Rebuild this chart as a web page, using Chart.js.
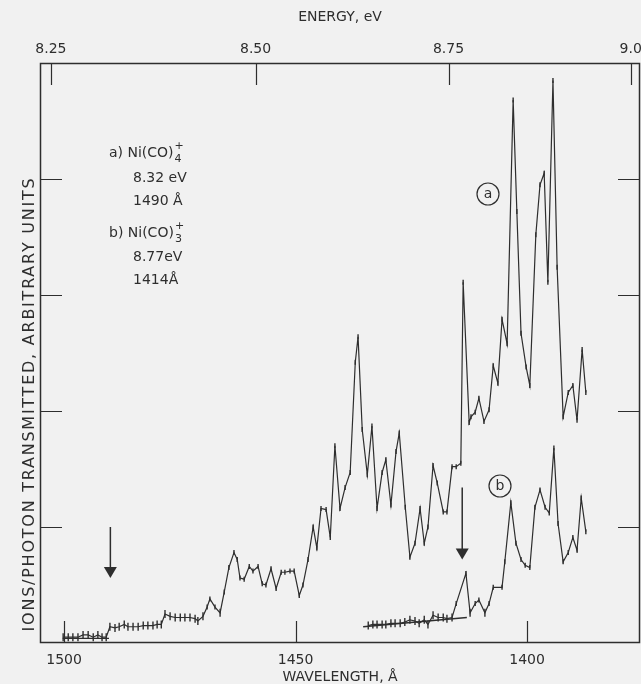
<!DOCTYPE html>
<html><head><meta charset="utf-8">
<script src="https://cdn.jsdelivr.net/npm/chart.js@4/dist/chart.umd.min.js"></script>
<style>html,body{margin:0;padding:0;background:#f1f1f1;}canvas{display:block;}</style>
</head><body><canvas id="c" width="641" height="684"></canvas>
<script>
// ---- data ----
const aWavelength = [1500.2,1499.1,1498.1,1497.0,1495.9,1494.8,1493.7,1492.7,1491.8,1490.9,1490.1,1489.0,1488.1,1487.0,1486.2,1485.1,1484.0,1482.9,1481.9,1480.8,1479.9,1479.0,1478.2,1477.1,1476.0,1474.9,1473.9,1472.8,1471.7,1471.1,1470.0,1469.1,1468.5,1467.4,1466.3,1465.4,1464.4,1463.3,1462.6,1462.0,1461.1,1460.0,1459.2,1458.1,1457.2,1456.4,1455.3,1454.2,1453.1,1452.3,1451.2,1450.3,1449.2,1448.4,1447.3,1446.2,1445.4,1444.5,1443.4,1442.5,1441.5,1440.4,1439.3,1438.2,1437.1,1436.5,1435.6,1434.5,1433.5,1432.4,1431.3,1430.5,1429.4,1428.3,1427.6,1426.3,1425.3,1424.2,1423.1,1422.2,1421.4,1420.3,1419.4,1418.1,1417.3,1416.2,1415.3,1414.3,1413.8,1412.5,1412.1,1411.2,1410.4,1409.3,1408.2,1407.3,1406.3,1405.4,1404.3,1403.0,1402.2,1401.3,1400.2,1399.4,1398.1,1397.2,1396.3,1395.5,1394.4,1393.5,1392.2,1391.1,1390.1,1389.2,1388.1,1387.3];
const aSignal = [0.05,0.05,0.05,0.05,0.07,0.07,0.05,0.07,0.05,0.05,0.14,0.13,0.14,0.16,0.14,0.14,0.14,0.15,0.15,0.15,0.16,0.16,0.25,0.23,0.22,0.22,0.22,0.22,0.21,0.19,0.23,0.31,0.38,0.31,0.26,0.44,0.65,0.78,0.72,0.56,0.55,0.66,0.62,0.66,0.51,0.50,0.64,0.47,0.61,0.61,0.62,0.62,0.41,0.50,0.72,1.00,0.82,1.16,1.15,0.91,1.70,1.16,1.34,1.47,2.42,2.64,1.84,1.45,1.87,1.16,1.47,1.58,1.19,1.65,1.81,1.17,0.74,0.86,1.16,0.86,1.00,1.53,1.38,1.13,1.13,1.52,1.52,1.55,3.11,1.90,1.95,1.99,2.11,1.91,2.01,2.39,2.24,2.79,2.58,4.68,3.72,2.67,2.38,2.22,3.52,3.95,4.05,3.11,4.85,3.24,1.95,2.16,2.22,1.92,2.53,2.16];
const bWavelength = [1434.3,1433.3,1432.4,1431.3,1430.5,1429.4,1428.5,1427.4,1426.4,1425.3,1424.2,1423.3,1422.2,1421.4,1420.3,1419.2,1418.1,1417.3,1416.2,1415.3,1413.2,1412.3,1411.2,1410.4,1409.1,1408.2,1407.3,1405.4,1404.8,1403.5,1402.4,1401.3,1400.4,1399.4,1398.3,1397.2,1396.1,1395.2,1394.2,1393.3,1392.2,1391.1,1390.1,1389.2,1388.3,1387.3];
const bSignal = [0.15,0.16,0.16,0.16,0.16,0.17,0.17,0.17,0.18,0.20,0.19,0.17,0.20,0.16,0.24,0.22,0.22,0.21,0.22,0.34,0.60,0.26,0.34,0.37,0.26,0.34,0.48,0.48,0.70,1.21,0.86,0.72,0.67,0.65,1.17,1.32,1.17,1.12,1.68,1.03,0.70,0.78,0.91,0.80,1.25,0.96];
const baselineAWavelength = [1500.3, 1490.3];
const baselineASignal = [0.04, 0.04];
const baselineBWavelength = [1435.4, 1413.0];
const baselineBSignal = [0.14, 0.22];
const arrowWavelength = [1490, 1414];
const arrowTop = [1.0, 1.34];
const arrowTip = [0.56, 0.72];
const wavelengthTicks = [1500, 1450, 1400];
const energyTicks = [8.25, 8.50, 8.75, 9.0];
const energyLabels = ['8.25', '8.50', '8.75', '9.0'];
const signalTicks = [1, 2, 3, 4];
const HC = 12398.4; // eV·Å

// ---- styling ----
const ink = '#2e2e2e';
const FONT = '"DejaVu Sans", sans-serif';
const xMin = 1375.6, xMax = 1505.2;

function pts(xs, ys){ return xs.map((v,i)=>({x:v, y:ys[i]})); }
function zeroPad(s){ s.paddingLeft=0; s.paddingRight=0; s.paddingTop=0; s.paddingBottom=0; }

const decor = {
  id: 'decor',
  afterDraw(chart){
    const {ctx, chartArea: ca, scales} = chart;
    const x = scales.x, y = scales.y, xt = scales.xTop;
    ctx.save();
    ctx.strokeStyle = ink; ctx.fillStyle = ink;
    // frame
    ctx.lineWidth = 1.5;
    ctx.strokeRect(ca.left + 0.5, ca.top + 0.5, ca.right - ca.left - 1, ca.bottom - ca.top - 1);
    // inward ticks
    ctx.lineWidth = 1.2;
    const TL = 22;
    ctx.beginPath();
    signalTicks.forEach(v => {
      const py = Math.round(y.getPixelForValue(v)) + 0.5;
      ctx.moveTo(ca.left, py); ctx.lineTo(ca.left + TL, py);
      ctx.moveTo(ca.right, py); ctx.lineTo(ca.right - TL, py);
    });
    wavelengthTicks.forEach(v => {
      const px = Math.round(x.getPixelForValue(v)) + 0.5;
      ctx.moveTo(px, ca.bottom); ctx.lineTo(px, ca.bottom - TL);
    });
    energyTicks.forEach(e => {
      const px = Math.round(xt.getPixelForValue(HC / e)) + 0.5;
      ctx.moveTo(px, ca.top); ctx.lineTo(px, ca.top + TL);
    });
    ctx.stroke();
    // threshold arrows
    ctx.lineWidth = 1.5;
    arrowWavelength.forEach((w, i) => {
      const px = x.getPixelForValue(w);
      const pTop = y.getPixelForValue(arrowTop[i]);
      const pTip = y.getPixelForValue(arrowTip[i]);
      ctx.beginPath(); ctx.moveTo(px, pTop); ctx.lineTo(px, pTip - 6); ctx.stroke();
      ctx.beginPath(); ctx.moveTo(px - 6.5, pTip - 11); ctx.lineTo(px + 6.5, pTip - 11); ctx.lineTo(px, pTip); ctx.closePath(); ctx.fill();
    });
    // y-axis title (lettering, lightly spaced)
    ctx.save();
    const yTitle = 'IONS/PHOTON TRANSMITTED, ARBITRARY UNITS';
    ctx.font = '16px ' + FONT;
    const w0 = ctx.measureText(yTitle).width;
    const sp = Math.max(0, (455 - w0) / yTitle.length);
    try { ctx.letterSpacing = sp.toFixed(2) + 'px'; } catch (e) {}
    ctx.translate(30, 404);
    ctx.rotate(-Math.PI / 2);
    ctx.textAlign = 'center'; ctx.textBaseline = 'middle';
    ctx.fillText(yTitle, 0, 0);
    ctx.restore();
    // legend block
    ctx.textBaseline = 'middle'; ctx.textAlign = 'left';
    function formula(label, sub, yy){
      ctx.font = '14px ' + FONT;
      ctx.fillText(label, 109, yy);
      const wl = ctx.measureText(label).width;
      ctx.font = '11px ' + FONT;
      ctx.fillText('+', 109 + wl + 1, yy - 7);
      ctx.fillText(sub, 109 + wl + 1, yy + 6);
      ctx.font = '14px ' + FONT;
    }
    formula('a) Ni(CO)', '4', 153);
    ctx.fillText('8.32 eV', 133, 178);
    ctx.fillText('1490 Å', 133, 201);
    formula('b) Ni(CO)', '3', 233);
    ctx.fillText('8.77eV', 133, 257);
    ctx.fillText('1414Å', 133, 280);
    // circled series labels
    ctx.lineWidth = 1.2;
    [['a', 488, 194], ['b', 500, 486]].forEach(([t, cx, cy]) => {
      ctx.beginPath(); ctx.arc(cx, cy, 11, 0, Math.PI * 2); ctx.stroke();
      ctx.textAlign = 'center';
      ctx.fillText(t, cx, cy);
    });
    ctx.restore();
  }
};

function lineSet(xs, ys){
  return {
    data: pts(xs, ys),
    borderColor: ink, borderWidth: 1.2, tension: 0, fill: false,
    pointStyle: 'line', pointRotation: 90,
    pointRadius: c => (c.parsed && c.parsed.y < 0.3 ? 4 : 2.5),
    pointHoverRadius: 3,
    pointBorderColor: ink, pointBorderWidth: 1.4
  };
}
function plainSet(xs, ys){
  return { data: pts(xs, ys), borderColor: ink, borderWidth: 1.3, pointRadius: 0, tension: 0, fill: false };
}

new Chart(document.getElementById('c'), {
  type: 'line',
  data: { datasets: [
    lineSet(aWavelength, aSignal),
    lineSet(bWavelength, bSignal),
    plainSet(baselineAWavelength, baselineASignal),
    plainSet(baselineBWavelength, baselineBSignal)
  ]},
  options: {
    responsive: false, animation: false, events: [],
    layout: { autoPadding: false, padding: { left: 0, right: 1, top: 0, bottom: 0 } },
    plugins: { legend: { display: false }, tooltip: { enabled: false } },
    scales: {
      x: {
        type: 'linear', position: 'bottom', reverse: true, min: xMin, max: xMax,
        afterBuildTicks: s => { s.ticks = wavelengthTicks.map(v => ({ value: v })); },
        afterFit: s => { s.height = 41; zeroPad(s); },
        grid: { display: false, drawTicks: false }, border: { display: false },
        ticks: { autoSkip: false, maxRotation: 0, padding: 9, color: ink, font: { family: FONT, size: 14 }, callback: v => String(v) },
        title: { display: true, text: 'WAVELENGTH, Å', color: ink, font: { family: FONT, size: 14, lineHeight: 1 }, padding: { top: 0, bottom: 0 } }
      },
      xTop: {
        type: 'linear', position: 'top', reverse: true, min: xMin, max: xMax,
        afterBuildTicks: s => { s.ticks = energyTicks.map(e => ({ value: HC / e })); },
        afterFit: s => { s.height = 63; zeroPad(s); },
        grid: { display: false, drawTicks: false }, border: { display: false },
        ticks: { autoSkip: false, maxRotation: 0, padding: 5, color: ink, font: { family: FONT, size: 14 }, callback: (v, i) => energyLabels[i] },
        title: { display: true, text: 'ENERGY, eV', color: ink, font: { family: FONT, size: 14, lineHeight: 1 }, padding: { top: 10, bottom: 0 } }
      },
      y: {
        type: 'linear', position: 'left', min: 0, max: 5,
        afterFit: s => { s.width = 40; zeroPad(s); },
        grid: { display: false, drawTicks: false }, border: { display: false },
        ticks: { display: false }
      }
    }
  },
  plugins: [decor]
});
</script>
</body></html>
